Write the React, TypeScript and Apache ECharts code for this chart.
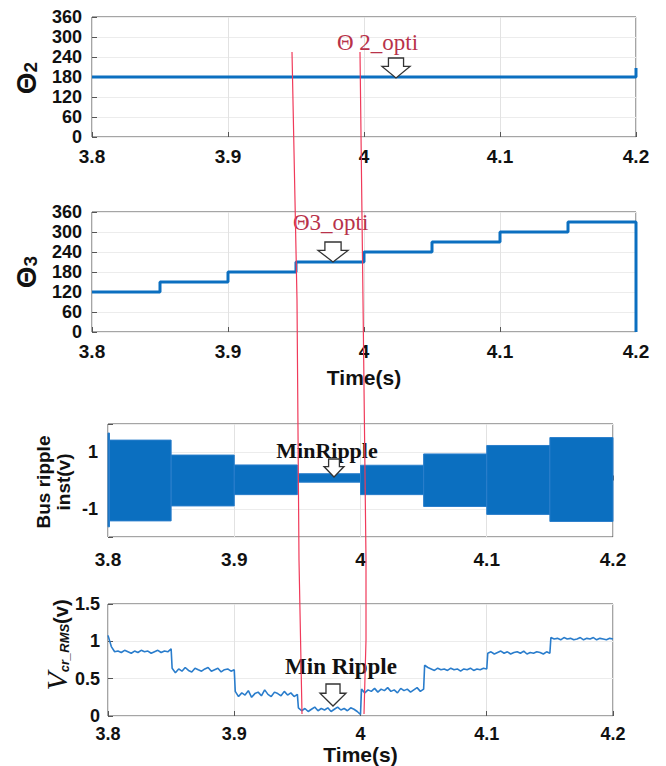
import React, { useEffect, useRef } from 'react';
import * as echarts from 'echarts';

// ---- data ----
const timeTicks = [3.8, 3.9, 4.0, 4.1, 4.2];

const theta2Times = [3.8, 4.2, 4.2];
const theta2Values = [180, 180, 207];

const theta3Times = [3.8, 3.85, 3.9, 3.95, 4.0, 4.05, 4.1, 4.15, 4.2, 4.2];
const theta3Values = [120, 150, 180, 210, 240, 270, 300, 330, 330, 0];

const rippleStart = [3.8, 3.8012, 3.85, 3.9, 3.95, 4.0, 4.05, 4.1, 4.15];
const rippleEnd = [3.8012, 3.85, 3.9, 3.95, 4.0, 4.05, 4.1, 4.15, 4.2];
const rippleUpper = [1.68, 1.43, 0.9, 0.55, 0.24, 0.54, 0.94, 1.24, 1.52];
const rippleLower = [-1.64, -1.43, -0.9, -0.5, -0.06, -0.5, -0.92, -1.2, -1.45];

const rmsSegStart = [3.8, 3.85, 3.9, 3.95, 4.0, 4.05, 4.1, 4.15];
const rmsSeg1 = [1.08, 0.93, 0.86, 0.87, 0.85, 0.88, 0.86, 0.84, 0.87, 0.85, 0.88, 0.86, 0.87, 0.84, 0.86, 0.88, 0.85, 0.87, 0.86, 0.9];
const rmsSeg2 = [0.64, 0.58, 0.63, 0.6, 0.65, 0.61, 0.59, 0.64, 0.62, 0.6, 0.63, 0.65, 0.6, 0.62, 0.64, 0.59, 0.62, 0.63, 0.6, 0.62];
const rmsSeg3 = [0.33, 0.26, 0.31, 0.28, 0.34, 0.25, 0.3, 0.32, 0.27, 0.35, 0.29, 0.26, 0.32, 0.3, 0.27, 0.33, 0.28, 0.31, 0.26, 0.29];
const rmsSeg4 = [0.11, 0.07, 0.1, 0.06, 0.09, 0.12, 0.07, 0.1, 0.08, 0.11, 0.06, 0.09, 0.12, 0.08, 0.1, 0.07, 0.11, 0.09, 0.06, 0.02];
const rmsSeg5 = [0.36, 0.31, 0.35, 0.33, 0.37, 0.32, 0.36, 0.34, 0.38, 0.33, 0.35, 0.31, 0.37, 0.34, 0.36, 0.32, 0.35, 0.38, 0.33, 0.36];
const rmsSeg6 = [0.68, 0.65, 0.63, 0.61, 0.64, 0.62, 0.63, 0.61, 0.64, 0.62, 0.63, 0.6, 0.63, 0.62, 0.64, 0.61, 0.63, 0.62, 0.64, 0.63];
const rmsSeg7 = [0.84, 0.86, 0.83, 0.85, 0.87, 0.84, 0.86, 0.83, 0.85, 0.86, 0.84, 0.87, 0.83, 0.85, 0.84, 0.86, 0.85, 0.83, 0.86, 0.84];
const rmsSeg8 = [1.05, 1.03, 1.04, 1.02, 1.05, 1.03, 1.04, 1.02, 1.03, 1.05, 1.02, 1.04, 1.03, 1.05, 1.02, 1.04, 1.03, 1.02, 1.04, 1.03];
const rmsSegments = [rmsSeg1, rmsSeg2, rmsSeg3, rmsSeg4, rmsSeg5, rmsSeg6, rmsSeg7, rmsSeg8];
const segLen = 0.05;

// ---- build ----
const SANS = 'Liberation Sans, Arial, sans-serif';
const SERIF = 'Liberation Serif, Times New Roman, serif';
const BLUE = '#0b6fc0';
const RED = '#f03a5a';

const rmsData: number[][] = [];
rmsSegments.forEach((seg, i) => {
  const n = seg.length;
  const off = i === 0 ? 0 : 0.0008;
  seg.forEach((v, k) => {
    const t = rmsSegStart[i] + off + (k * (segLen - off)) / (n - 1);
    rmsData.push([t, v]);
  });
});

const rippleData = rippleStart.map((s, i) => [s, rippleEnd[i], rippleLower[i], rippleUpper[i]]);

const grids = [
  { left: 92, top: 17, width: 544, height: 120 },
  { left: 92, top: 212, width: 544, height: 120 },
  { left: 108, top: 424, width: 505, height: 113 },
  { left: 108, top: 604, width: 505, height: 112 },
];

const xLabelMargins = [10, 10, 13, 9];
const xLabelSizes = [19, 19, 19, 18];

const mkX = (i: number, name?: string, nameGap?: number) => ({
  type: 'value',
  gridIndex: i,
  min: timeTicks[0],
  max: timeTicks[timeTicks.length - 1],
  interval: 0.1,
  axisLine: { show: false },
  axisTick: { show: true, inside: true, length: 5, lineStyle: { color: '#555' } },
  splitLine: { show: true, lineStyle: { color: '#e2e2e2', width: 1 } },
  axisLabel: {
    show: true,
    showMinLabel: true,
    showMaxLabel: true,
    margin: xLabelMargins[i],
    fontSize: xLabelSizes[i],
    fontWeight: 'bold',
    fontFamily: SANS,
    color: '#111',
    formatter: (v: number) => String(+v.toFixed(1)),
  },
  name: name || '',
  nameLocation: 'middle',
  nameGap: nameGap || 0,
  nameTextStyle: { fontSize: 21, fontWeight: 'bold', fontFamily: SANS, color: '#111' },
});

const mkY = (i: number, min: number, max: number, interval: number, margin: number, fmt: (v: number) => string) => ({
  type: 'value',
  gridIndex: i,
  min,
  max,
  interval,
  axisLine: { show: false },
  axisTick: { show: true, inside: true, length: 5, lineStyle: { color: '#555' } },
  splitLine: { show: true, lineStyle: { color: '#ececec', width: 1 } },
  axisLabel: {
    margin,
    fontSize: 18,
    fontWeight: 'bold',
    fontFamily: SANS,
    color: '#111',
    formatter: fmt,
  },
});

const arrow = (cx: number, top: number, w: number, h: number) => {
  const sw = w * 0.27;
  const hw = w / 2;
  const sh = h * 0.42;
  return {
    type: 'polygon',
    z: 120,
    shape: {
      points: [
        [cx - sw, top],
        [cx + sw, top],
        [cx + sw, top + sh],
        [cx + hw, top + sh],
        [cx, top + h],
        [cx - hw, top + sh],
        [cx - sw, top + sh],
      ],
    },
    style: { fill: '#fff', stroke: '#333', lineWidth: 1.3 },
  };
};

const option: any = {
  animation: false,
  backgroundColor: '#fff',
  grid: grids.map((g) => ({ ...g, show: true, borderColor: '#4a4a4a', borderWidth: 1, backgroundColor: 'transparent' })),
  xAxis: [mkX(0), mkX(1, 'Time(s)', 35), mkX(2), mkX(3, 'Time(s)', 25)],
  yAxis: [
    mkY(0, 0, 360, 60, 10, (v) => String(v)),
    mkY(1, 0, 360, 60, 10, (v) => String(v)),
    mkY(2, -2, 2, 1, 10, (v) => (v === 1 || v === -1 ? String(v) : '')),
    mkY(3, 0, 1.5, 0.5, 8, (v) => String(v)),
  ],
  series: [
    {
      type: 'line',
      xAxisIndex: 0,
      yAxisIndex: 0,
      data: theta2Times.map((t, i) => [t, theta2Values[i]]),
      showSymbol: false,
      lineStyle: { color: BLUE, width: 3 },
    },
    {
      type: 'line',
      xAxisIndex: 1,
      yAxisIndex: 1,
      step: 'end',
      data: theta3Times.map((t, i) => [t, theta3Values[i]]),
      showSymbol: false,
      lineStyle: { color: BLUE, width: 3 },
    },
    {
      type: 'custom',
      xAxisIndex: 2,
      yAxisIndex: 2,
      data: rippleData,
      encode: { x: [0, 1], y: [2, 3] },
      renderItem: (params: any, api: any) => {
        const p1 = api.coord([api.value(0), api.value(3)]);
        const p2 = api.coord([api.value(1), api.value(2)]);
        return {
          type: 'rect',
          shape: { x: p1[0], y: p1[1], width: p2[0] - p1[0], height: p2[1] - p1[1] },
          style: { fill: BLUE, stroke: '#2a7ecb', lineWidth: 1 },
        };
      },
    },
    {
      type: 'line',
      xAxisIndex: 3,
      yAxisIndex: 3,
      data: rmsData,
      showSymbol: false,
      lineStyle: { color: '#2a7dcc', width: 1.6 },
    },
  ],
  graphic: [
    // y-axis names
    {
      type: 'text',
      x: 25,
      y: 78,
      rotation: Math.PI / 2,
      style: {
        text: '{a|Θ}{b|2}',
        align: 'center',
        verticalAlign: 'middle',
        rich: {
          a: { fontSize: 28, fontWeight: 'bold', fontFamily: SANS, fill: '#111', verticalAlign: 'bottom', lineHeight: 30 },
          b: { fontSize: 19, fontWeight: 'bold', fontFamily: SANS, fill: '#111', verticalAlign: 'bottom', lineHeight: 30 },
        },
      },
    },
    {
      type: 'text',
      x: 25,
      y: 272,
      rotation: Math.PI / 2,
      style: {
        text: '{a|Θ}{b|3}',
        align: 'center',
        verticalAlign: 'middle',
        rich: {
          a: { fontSize: 28, fontWeight: 'bold', fontFamily: SANS, fill: '#111', verticalAlign: 'bottom', lineHeight: 30 },
          b: { fontSize: 19, fontWeight: 'bold', fontFamily: SANS, fill: '#111', verticalAlign: 'bottom', lineHeight: 30 },
        },
      },
    },
    {
      type: 'text',
      x: 53,
      y: 482,
      rotation: Math.PI / 2,
      style: {
        text: 'Bus ripple\ninst(v)',
        align: 'center',
        verticalAlign: 'middle',
        fontSize: 19,
        lineHeight: 20,
        fontWeight: 'bold',
        fontFamily: SANS,
        fill: '#111',
      },
    },
    {
      type: 'text',
      x: 56,
      y: 645,
      rotation: Math.PI / 2,
      style: {
        text: '{v|V}{s|cr_RMS}{n|(v)}',
        align: 'center',
        verticalAlign: 'middle',
        rich: {
          v: { fontSize: 30, fontStyle: 'italic', fontFamily: SERIF, fill: '#111', verticalAlign: 'bottom', lineHeight: 30 },
          s: { fontSize: 13, fontStyle: 'italic', fontWeight: 'bold', fontFamily: SANS, fill: '#111', verticalAlign: 'bottom', lineHeight: 24 },
          n: { fontSize: 20, fontWeight: 'bold', fontFamily: SANS, fill: '#111', verticalAlign: 'bottom', lineHeight: 30 },
        },
      },
    },
    // annotation texts
    {
      type: 'text',
      x: 337,
      y: 42,
      z: 110,
      style: { text: 'Θ 2_opti', fontSize: 23, fontFamily: SERIF, fill: '#b8324a', verticalAlign: 'middle', align: 'left' },
    },
    {
      type: 'text',
      x: 293,
      y: 222,
      z: 110,
      style: { text: 'Θ3_opti', fontSize: 23, fontFamily: SERIF, fill: '#b8324a', verticalAlign: 'middle', align: 'left' },
    },
    {
      type: 'text',
      x: 327,
      y: 450,
      z: 110,
      style: { text: 'MinRipple', fontSize: 22, fontWeight: 'bold', fontFamily: SERIF, fill: '#111', verticalAlign: 'middle', align: 'center' },
    },
    {
      type: 'text',
      x: 341,
      y: 666,
      z: 110,
      style: { text: 'Min Ripple', fontSize: 23, fontWeight: 'bold', fontFamily: SERIF, fill: '#111', verticalAlign: 'middle', align: 'center' },
    },
    arrow(396, 58, 28, 20),
    arrow(333, 242, 30, 20),
    arrow(334, 459, 20, 18),
    arrow(333, 684, 26, 22),
    // red marker lines
    {
      type: 'polyline',
      z: 130,
      shape: { points: [[292, 52], [297, 300], [299, 560], [302, 714]] },
      style: { stroke: RED, lineWidth: 1.2, fill: 'none' },
    },
    {
      type: 'polyline',
      z: 130,
      shape: { points: [[360, 52], [363, 300], [366, 560], [366, 640], [364, 714]] },
      style: { stroke: RED, lineWidth: 1.2, fill: 'none' },
    },
  ],
};

export default function App() {
  const ref = useRef<HTMLDivElement>(null);
  useEffect(() => {
    const chart = echarts.init(ref.current as HTMLDivElement, null, { renderer: 'svg' });
    chart.setOption(option);
    return () => chart.dispose();
  }, []);
  return (
    <div
      ref={ref}
      style={{ position: 'absolute', left: 0, top: 0, width: 666, height: 766, background: '#fff' }}
    />
  );
}
